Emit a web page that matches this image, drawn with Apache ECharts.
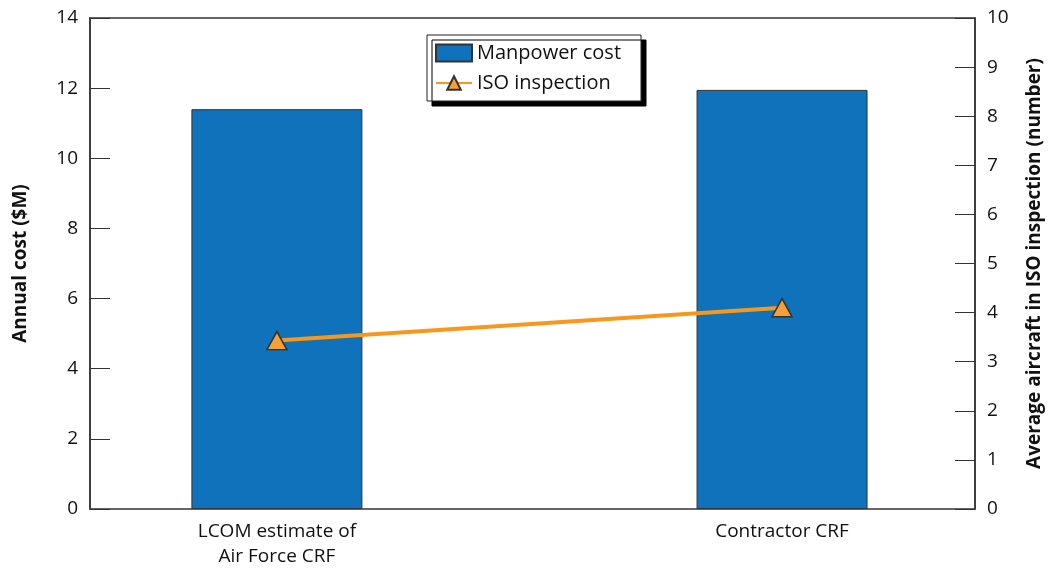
<!DOCTYPE html>
<html><head><meta charset="utf-8">
<script src="https://cdn.jsdelivr.net/npm/echarts@6/dist/echarts.min.js"></script>
<style>html,body{margin:0;background:#fff}#c{width:1064px;height:569px}</style>
</head><body><div id="c"></div>
<script>
const categories = ['LCOM estimate of\nAir Force CRF', 'Contractor CRF']
const manpowerCost = [11.4, 11.95]
const isoInspection = [3.43, 4.1]

const font = 'Open Sans'
const chart = echarts.init(document.getElementById('c'))
chart.setOption({
    textStyle: { fontFamily: font },
    animation: false,
    grid: { left: 90, right: 89, top: 18, bottom: 59, show: true, borderColor: '#333', borderWidth: 1.5 },
    legend: {
        orient: 'vertical', left: 427, top: 35, itemGap: 10, itemWidth: 36, itemHeight: 17,
        padding: [8, 20, 8, 8],
        backgroundColor: '#fff', borderColor: '#222', borderWidth: 1,
        shadowColor: '#000', shadowOffsetX: 5, shadowOffsetY: 5, shadowBlur: 0,
        textStyle: { fontSize: 20, color: '#111', fontFamily: font },
        data: [
            { name: 'Manpower cost', icon: 'rect' },
            { name: 'ISO inspection' }
        ]
    },
    xAxis: {
        type: 'value', min: -0.37, max: 1.382,
        axisLine: { show: false }, axisTick: { show: false }, splitLine: { show: false },
        axisLabel: {
            customValues: [0, 1], fontSize: 19, color: '#111', lineHeight: 25, margin: 10,
            formatter: v => categories[Math.round(v)]
        }
    },
    yAxis: [
        {
            type: 'value', min: 0, max: 14, interval: 2,
            name: 'Annual cost ($M)', nameLocation: 'middle', nameGap: 60,
            nameTextStyle: { fontSize: 19, fontWeight: 'bold', color: '#111' },
            axisLine: { show: true, onZero: false, lineStyle: { color: '#333', width: 1.5 } },
            axisTick: { inside: true, length: 20, lineStyle: { color: '#333' } },
            axisLabel: { fontSize: 19, color: '#111', margin: 12 },
            splitLine: { show: false }
        },
        {
            type: 'value', min: 0, max: 10, interval: 1, position: 'right',
            name: 'Average aircraft in ISO inspection (number)', nameLocation: 'middle', nameGap: 50,
            nameRotate: 90,
            nameTextStyle: { fontSize: 19, fontWeight: 'bold', color: '#111' },
            axisLine: { show: true, onZero: false, lineStyle: { color: '#333', width: 1.5 } },
            axisTick: { inside: true, length: 20, lineStyle: { color: '#333' } },
            axisLabel: { fontSize: 19, color: '#111', margin: 12 },
            splitLine: { show: false }
        }
    ],
    series: [
        {
            name: 'Manpower cost', type: 'bar', barWidth: 171, yAxisIndex: 0,
            itemStyle: { color: '#0f72ba', borderColor: '#333', borderWidth: 1 },
            data: manpowerCost.map((v, i) => [i, v])
        },
        {
            name: 'ISO inspection', type: 'line', yAxisIndex: 1,
            symbol: 'triangle', symbolSize: [20, 18],
            lineStyle: { color: '#f7981d', width: 4 },
            itemStyle: { color: '#f7a03a', borderColor: '#333', borderWidth: 1.5 },
            data: isoInspection.map((v, i) => [i, v])
        }
    ]
})
</script></body></html>
